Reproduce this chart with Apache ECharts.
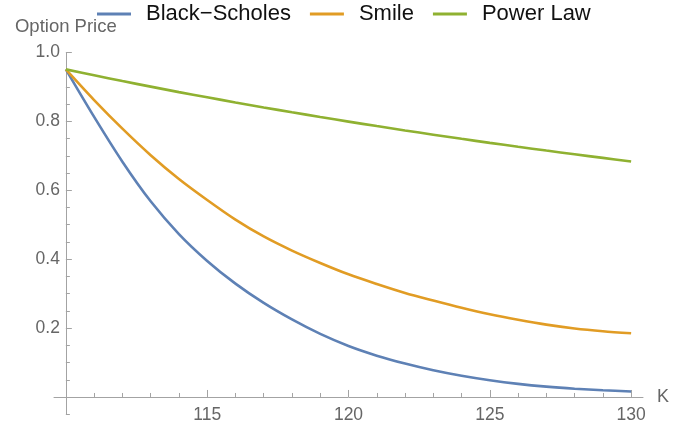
<!DOCTYPE html>
<html>
<head>
<meta charset="utf-8">
<script src="https://cdn.jsdelivr.net/npm/echarts@6/dist/echarts.min.js"></script>
<style>
html,body{margin:0;padding:0;background:#fff;overflow:hidden;}
#chart{width:694px;height:427px;}
</style>
</head>
<body>
<div id="chart"></div>
<script>
// ---- data ----
const strikes = [110,111,112,113,114,115,116,117,118,119,120,121,122,123,124,125,126,127,128,129,130];
const blackScholes = [0.951,0.813,0.683,0.568,0.473,0.395,0.329,0.273,0.225,0.183,0.148,0.120,0.097,0.0775,0.0615,0.0485,0.038,0.030,0.024,0.0195,0.016];
const smile = [0.951,0.862,0.779,0.702,0.633,0.572,0.515,0.466,0.425,0.389,0.356,0.328,0.302,0.280,0.259,0.240,0.224,0.210,0.199,0.191,0.185];
const powerLaw = [0.951,0.934,0.917,0.901,0.885,0.870,0.855,0.8405,0.8265,0.8127,0.7994,0.7864,0.7737,0.7614,0.7494,0.7377,0.7263,0.7153,0.7045,0.694,0.6837];
const seriesNames = ['Black\u2212Scholes','Smile','Power Law'];
const xMajorTicks = [115,120,125,130];
const xMinorTicks = [111,112,113,114,116,117,118,119,121,122,123,124,126,127,128,129];
const yMajorTicks = [0.2,0.4,0.6,0.8,1.0];
const yMinorTicks = [-0.05,0.05,0.1,0.15,0.25,0.3,0.35,0.45,0.5,0.55,0.65,0.7,0.75,0.85,0.9,0.95];
const xAxisName = 'K';
const yAxisName = 'Option Price';

// ---- layout ----
const W = 694, H = 427;
const gridLeft = 54, gridRight = 51, gridTop = 52.5, gridBottom = 12.8;
const xMin = 109.58, xMax = 130.42, xCross = 110;
const yMin = -0.05, yMax = 1.0, yCross = 0;
const gridWidth = W - gridLeft - gridRight;
const gridHeight = H - gridTop - gridBottom;
const yOffset = -(xCross - xMin) * gridWidth / (xMax - xMin);
const xOffset = -(yCross - yMin) * gridHeight / (yMax - yMin);

const colors = ['#5e81b5','#e19c24','#8fb131'];
const axisGray = '#a3a3a3';
const textGray = '#666666';
const font = "'Liberation Sans', Arial, sans-serif";

function pairs(vals){ return strikes.map((k,i)=>[k, vals[i]]); }

const chart = echarts.init(document.getElementById('chart'), null, {renderer:'canvas'});
chart.setOption({
  animation: false,
  backgroundColor: '#ffffff',
  color: colors,
  textStyle: {fontFamily: font},
  legend: {
    data: seriesNames,
    top: 3,
    left: 97,
    padding: 0,
    icon: 'rect',
    itemWidth: 34,
    itemHeight: 3,
    itemGap: 19,
    textStyle: {fontSize: 22, color: '#111', fontFamily: font, padding: [0,0,0,10]}
  },
  grid: {left: gridLeft, right: gridRight, top: gridTop, bottom: gridBottom, containLabel: false, outerBoundsMode: 'none'},
  xAxis: [
    {
      type: 'value', min: xMin, max: xMax, position: 'bottom', offset: xOffset,
      name: xAxisName, nameLocation: 'end', nameGap: 14,
      nameTextStyle: {fontSize: 18, color: textGray, fontFamily: font},
      axisLine: {show: true, onZero: false, lineStyle: {color: axisGray, width: 1}},
      axisTick: {show: true, inside: true, length: 7, customValues: xMajorTicks, lineStyle: {color: axisGray, width: 1}},
      axisLabel: {show: true, customValues: xMajorTicks, fontSize: 17.5, color: textGray, margin: 9, fontFamily: font,
                  formatter: v => String(v)},
      splitLine: {show: false}
    },
    {
      type: 'value', min: xMin, max: xMax, position: 'bottom', offset: xOffset,
      axisLine: {show: false, onZero: false},
      axisTick: {show: true, inside: true, length: 4, customValues: xMinorTicks, lineStyle: {color: axisGray, width: 1}},
      axisLabel: {show: false},
      splitLine: {show: false}
    }
  ],
  yAxis: [
    {
      type: 'value', min: yMin, max: yMax, position: 'left', offset: yOffset,
      name: yAxisName, nameLocation: 'end', nameGap: 16,
      nameTextStyle: {fontSize: 18.5, color: textGray, fontFamily: font, align: 'center'},
      axisLine: {show: true, onZero: false, lineStyle: {color: axisGray, width: 1}},
      axisTick: {show: true, inside: true, length: 6, customValues: yMajorTicks, lineStyle: {color: axisGray, width: 1}},
      axisLabel: {show: true, customValues: yMajorTicks, fontSize: 17.5, color: textGray, margin: 6, fontFamily: font,
                  formatter: v => v.toFixed(1)},
      splitLine: {show: false}
    },
    {
      type: 'value', min: yMin, max: yMax, position: 'left', offset: yOffset,
      axisLine: {show: false, onZero: false},
      axisTick: {show: true, inside: true, length: 4, customValues: yMinorTicks, lineStyle: {color: axisGray, width: 1}},
      axisLabel: {show: false},
      splitLine: {show: false}
    }
  ],
  series: [
    {name: seriesNames[0], type: 'line', data: pairs(blackScholes), symbol: 'none', smooth: 0.3, lineStyle: {width: 2.6}},
    {name: seriesNames[1], type: 'line', data: pairs(smile), symbol: 'none', smooth: 0.3, lineStyle: {width: 2.6}},
    {name: seriesNames[2], type: 'line', data: pairs(powerLaw), symbol: 'none', smooth: 0.3, lineStyle: {width: 2.6}}
  ]
});
</script>
</body>
</html>
